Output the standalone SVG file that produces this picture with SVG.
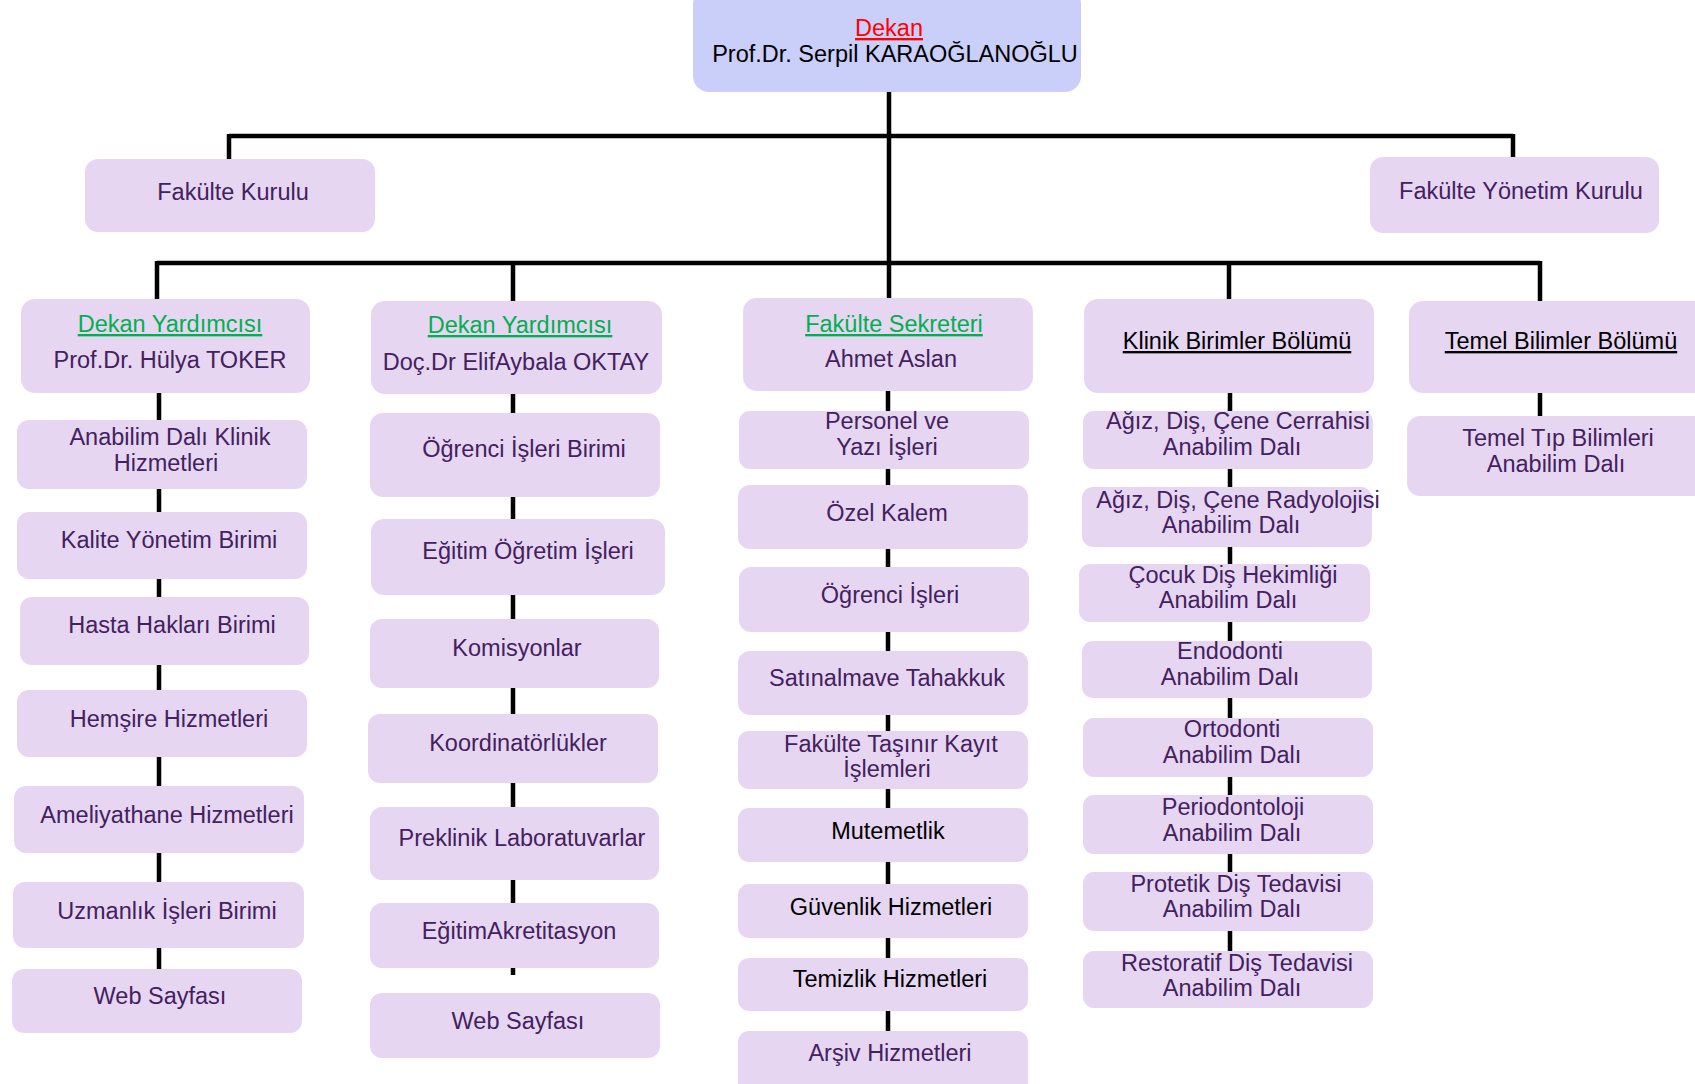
<svg xmlns="http://www.w3.org/2000/svg" width="1695" height="1084" viewBox="0 0 1695 1084">
<style>
.box{fill:#e6d6f2}
.dek{fill:#c9cff8}
.t{font-family:"Liberation Sans",Arial,sans-serif;font-size:23.5px;fill:#43215f;text-anchor:middle}
.k{fill:#000}
.g{fill:#00b050;text-decoration:underline}
.r{fill:#ff0000;text-decoration:underline}
.u{text-decoration:underline}
.c{stroke:#000;stroke-width:4.5;fill:none}
</style>
<rect width="1695" height="1084" fill="#fff"/>
<g id="connectors" class="c">
<path d="M889 92V298"/>
<path d="M229 136H1513M229 134V159M1513 134V157"/>
<path d="M157 263H1540M157 261V299M513 261V301M1229 261V299M1540 261V301"/>
<path d="M159 393V969"/>
<path d="M513 394V975"/>
<path d="M888 391V1031"/>
<path d="M1230 393V951"/>
<path d="M1540 393V416"/>
</g>
<g id="dekan"><rect class="dek" x="693" y="-12" width="388" height="104" rx="16"/>
<text class="t r" x="889" y="36">Dekan</text>
<text class="t k" x="895" y="62">Prof.Dr. Serpil KARAOĞLANOĞLU</text></g>
<g id="fakulte-kurulu"><rect class="box" x="85" y="159" width="290" height="73" rx="13"/>
<text class="t" x="233" y="200">Fakülte Kurulu</text></g>
<g id="fakulte-yonetim-kurulu"><rect class="box" x="1370" y="157" width="289" height="76" rx="13"/>
<text class="t" x="1521" y="199">Fakülte Yönetim Kurulu</text></g>

<g id="dekan-yrd-1"><rect class="box" x="21" y="299" width="289" height="94" rx="14"/>
<text class="t g" x="170" y="332">Dekan Yardımcısı</text>
<text class="t" x="170" y="368">Prof.Dr. Hülya TOKER</text></g>
<g id="dekan-yrd-2"><rect class="box" x="371" y="301" width="291" height="93" rx="14"/>
<text class="t g" x="520" y="333">Dekan Yardımcısı</text>
<text class="t" x="516" y="370">Doç.Dr ElifAybala OKTAY</text></g>
<g id="fakulte-sekreteri"><rect class="box" x="743" y="298" width="290" height="93" rx="14"/>
<text class="t g" x="894" y="332">Fakülte Sekreteri</text>
<text class="t" x="891" y="367">Ahmet Aslan</text></g>
<g id="klinik-birimler"><rect class="box" x="1084" y="299" width="290" height="94" rx="14"/>
<text class="t k u" x="1237" y="349">Klinik Birimler Bölümü</text></g>
<g id="temel-bilimler"><rect class="box" x="1409" y="301" width="300" height="92" rx="14"/>
<text class="t k u" x="1561" y="349">Temel Bilimler Bölümü</text></g>

<g id="c1-anabilim"><rect class="box" x="17" y="420" width="290" height="69" rx="12"/>
<text class="t" x="170" y="445">Anabilim Dalı Klinik</text><text class="t" x="166" y="471">Hizmetleri</text></g>
<g id="c1-kalite"><rect class="box" x="17" y="512" width="290" height="67" rx="12"/>
<text class="t" x="169" y="548">Kalite Yönetim Birimi</text></g>
<g id="c1-hasta"><rect class="box" x="20" y="597" width="289" height="68" rx="12"/>
<text class="t" x="172" y="633">Hasta Hakları Birimi</text></g>
<g id="c1-hemsire"><rect class="box" x="17" y="690" width="290" height="67" rx="12"/>
<text class="t" x="169" y="727">Hemşire Hizmetleri</text></g>
<g id="c1-ameliyathane"><rect class="box" x="14" y="786" width="290" height="67" rx="12"/>
<text class="t" x="167" y="823">Ameliyathane Hizmetleri</text></g>
<g id="c1-uzmanlik"><rect class="box" x="13" y="882" width="291" height="66" rx="12"/>
<text class="t" x="167" y="919">Uzmanlık İşleri Birimi</text></g>
<g id="c1-web"><rect class="box" x="12" y="969" width="290" height="64" rx="12"/>
<text class="t" x="160" y="1004">Web Sayfası</text></g>

<g id="c2-ogrenci"><rect class="box" x="370" y="413" width="290" height="84" rx="13"/>
<text class="t" x="524" y="457">Öğrenci İşleri Birimi</text></g>
<g id="c2-egitim"><rect class="box" x="371" y="519" width="294" height="76" rx="13"/>
<text class="t" x="528" y="559">Eğitim Öğretim İşleri</text></g>
<g id="c2-komisyonlar"><rect class="box" x="370" y="619" width="289" height="69" rx="12"/>
<text class="t" x="517" y="656">Komisyonlar</text></g>
<g id="c2-koordinatorlukler"><rect class="box" x="368" y="714" width="290" height="69" rx="12"/>
<text class="t" x="518" y="751">Koordinatörlükler</text></g>
<g id="c2-preklinik"><rect class="box" x="370" y="807" width="289" height="73" rx="12"/>
<text class="t" x="522" y="846">Preklinik Laboratuvarlar</text></g>
<g id="c2-akreditasyon"><rect class="box" x="370" y="903" width="289" height="65" rx="12"/>
<text class="t" x="519" y="939">EğitimAkretitasyon</text></g>
<g id="c2-web"><rect class="box" x="370" y="993" width="290" height="65" rx="12"/>
<text class="t" x="518" y="1029">Web Sayfası</text></g>

<g id="c3-personel"><rect class="box" x="739" y="411" width="290" height="58" rx="11"/>
<text class="t" x="887" y="429">Personel ve</text><text class="t" x="887" y="455">Yazı İşleri</text></g>
<g id="c3-ozel-kalem"><rect class="box" x="738" y="485" width="290" height="64" rx="12"/>
<text class="t" x="887" y="521">Özel Kalem</text></g>
<g id="c3-ogrenci"><rect class="box" x="739" y="567" width="290" height="65" rx="12"/>
<text class="t" x="890" y="603">Öğrenci İşleri</text></g>
<g id="c3-satinalma"><rect class="box" x="738" y="651" width="290" height="64" rx="12"/>
<text class="t" x="887" y="686">Satınalmave Tahakkuk</text></g>
<g id="c3-tasinir"><rect class="box" x="738" y="731" width="290" height="58" rx="11"/>
<text class="t" x="891" y="752">Fakülte Taşınır Kayıt</text><text class="t" x="887" y="777">İşlemleri</text></g>
<g id="c3-mutemetlik"><rect class="box" x="738" y="808" width="290" height="54" rx="11"/>
<text class="t k" x="888" y="839">Mutemetlik</text></g>
<g id="c3-guvenlik"><rect class="box" x="738" y="884" width="290" height="54" rx="11"/>
<text class="t k" x="891" y="915">Güvenlik Hizmetleri</text></g>
<g id="c3-temizlik"><rect class="box" x="738" y="958" width="290" height="53" rx="11"/>
<text class="t k" x="890" y="987">Temizlik Hizmetleri</text></g>
<g id="c3-arsiv"><rect class="box" x="738" y="1031" width="290" height="65" rx="11"/>
<text class="t" x="890" y="1061">Arşiv Hizmetleri</text></g>

<g id="c4-cerrahi"><rect class="box" x="1083" y="411" width="290" height="58" rx="11"/>
<text class="t" x="1238" y="429">Ağız, Diş, Çene Cerrahisi</text><text class="t" x="1232" y="455">Anabilim Dalı</text></g>
<g id="c4-radyoloji"><rect class="box" x="1082" y="487" width="290" height="60" rx="11"/>
<text class="t" x="1238" y="508">Ağız, Diş, Çene Radyolojisi</text><text class="t" x="1231" y="533">Anabilim Dalı</text></g>
<g id="c4-cocuk"><rect class="box" x="1079" y="564" width="291" height="58" rx="11"/>
<text class="t" x="1233" y="583">Çocuk Diş Hekimliği</text><text class="t" x="1228" y="608">Anabilim Dalı</text></g>
<g id="c4-endodonti"><rect class="box" x="1082" y="641" width="290" height="57" rx="11"/>
<text class="t" x="1230" y="659">Endodonti</text><text class="t" x="1230" y="685">Anabilim Dalı</text></g>
<g id="c4-ortodonti"><rect class="box" x="1083" y="718" width="290" height="59" rx="11"/>
<text class="t" x="1232" y="737">Ortodonti</text><text class="t" x="1232" y="763">Anabilim Dalı</text></g>
<g id="c4-periodontoloji"><rect class="box" x="1083" y="795" width="290" height="59" rx="11"/>
<text class="t" x="1233" y="815">Periodontoloji</text><text class="t" x="1232" y="841">Anabilim Dalı</text></g>
<g id="c4-protetik"><rect class="box" x="1083" y="872" width="290" height="59" rx="11"/>
<text class="t" x="1236" y="892">Protetik Diş Tedavisi</text><text class="t" x="1232" y="917">Anabilim Dalı</text></g>
<g id="c4-restoratif"><rect class="box" x="1083" y="951" width="290" height="57" rx="11"/>
<text class="t" x="1237" y="971">Restoratif Diş Tedavisi</text><text class="t" x="1232" y="996">Anabilim Dalı</text></g>

<g id="c5-temel-tip"><rect class="box" x="1407" y="416" width="300" height="80" rx="13"/>
<text class="t" x="1558" y="446">Temel Tıp Bilimleri</text><text class="t" x="1556" y="472">Anabilim Dalı</text></g>
</svg>
